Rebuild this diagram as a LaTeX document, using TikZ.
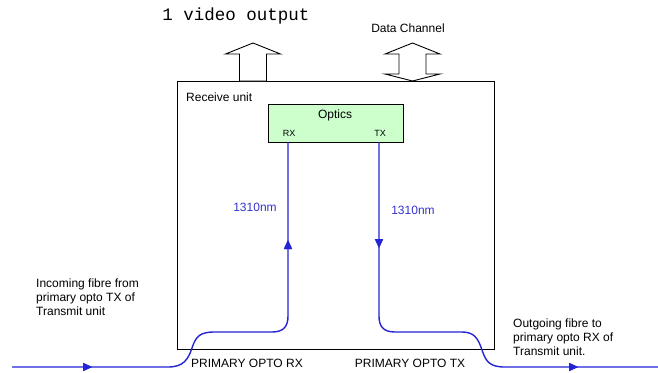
\documentclass[tikz,border=0pt]{standalone}
\usepackage{fontspec}
\setmainfont{Liberation Sans}
\setmonofont{Liberation Mono}
\usepackage{xcolor}
\usetikzlibrary{arrows.meta,decorations.markings}
\definecolor{fibreblue}{HTML}{2424D6}
\definecolor{opticsgreen}{HTML}{CCFFCC}
\definecolor{labelblue}{HTML}{3333CC}

\begin{document}
\begin{tikzpicture}[x=1pt, y=-1pt,
    every node/.style={font=\fontsize{12}{14}\selectfont, inner sep=0pt},
    fibre/.style={fibreblue, line width=1.4pt},
    fibretip/.style={decoration={markings, mark=at position #1 with {\arrow{Triangle[length=9pt,width=8pt]}}}, postaction={decorate}},
    hollow/.style={draw=black, line width=0.9pt, fill=white, line join=miter},
    unitbox/.style={draw=black, line width=0.9pt, anchor=north west, minimum width=317pt, minimum height=268pt},
    opticsbox/.style={draw=black, line width=1.3pt, fill=opticsgreen, anchor=north west, minimum width=135pt, minimum height=38pt},
    port/.style={font=\fontsize{9}{10}\selectfont},
    wavelength/.style={labelblue}
]
\useasboundingbox (0,0) rectangle (658,372);

\node[unitbox] (unit) at (177,81) {};
\node[anchor=west] (unitname) at (186,97) {Receive unit};
\node[opticsbox] (optics) at (268,104) {};
\node (opticsname) at (335,115) {Optics};
\node[port] (rxname) at (289,133) {RX};
\node[port] (txname) at (380,133) {TX};

\coordinate (rx) at (288,142);
\coordinate (tx) at (379,142);
\coordinate (inL) at (12,367);
\coordinate (outR) at (658,367);

% fibres
\draw[fibre, fibretip=80pt, fibretip=-98pt] (inL) -- (168,367)
    .. controls (183,367) and (188,360) .. (192,348)
    .. controls (196,336) and (200,332) .. (215,332) -- (272,332)
    .. controls (284,332) and (288,326) .. (288,316) -- (rx);
\draw[fibre, fibretip=106pt, fibretip=-80pt] (tx) -- (379,316)
    .. controls (379,326) and (383,332) .. (395,332) -- (462,332)
    .. controls (474,332) and (478,338) .. (482,350)
    .. controls (486,362) and (490,367) .. (505,367) -- (outR);

\node[wavelength] (rxlambda) at (255,207) {1310nm};
\node[wavelength] (txlambda) at (413,210) {1310nm};

% outputs on top
\coordinate (videotip) at (253,43);
\draw[hollow] (videotip) -- ++(27.5,11) -- ++(-14,0) -- ++(0,27) -- ++(-27,0) -- ++(0,-27) -- ++(-14,0) -- cycle;
\coordinate (datatip) at (412.5,43);
\draw[hollow] (datatip) -- ++(27.5,11) -- ++(-14,0) -- ++(0,20) -- ++(14,0) -- ++(-27.5,7)
    -- ++(-27.5,-7) -- ++(14,0) -- ++(0,-20) -- ++(-14,0) -- cycle;
\node[font=\ttfamily\fontsize{17.5}{20}\selectfont] (videoname) at (236,16) {1 video output};
\node (dataname) at (408,28) {Data Channel};

\node[anchor=west, align=left] (inname) at (36,297) {Incoming fibre from\\primary opto TX of\\Transmit unit};
\node[anchor=west, align=left] (outname) at (513,337) {Outgoing fibre to\\primary opto RX of\\Transmit unit.};
\node (rxport) at (247,363) {PRIMARY OPTO RX};
\node (txport) at (410,363) {PRIMARY OPTO TX};
\end{tikzpicture}
\end{document}
